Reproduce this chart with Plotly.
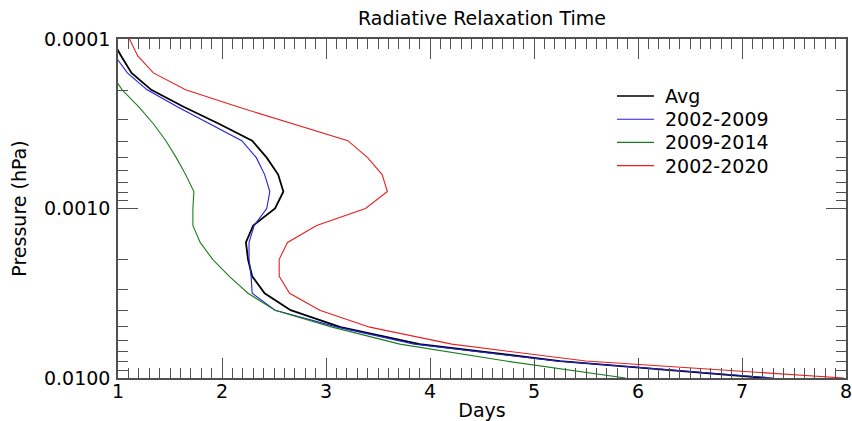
import plotly.graph_objects as go

# Pressure levels (hPa), 0.1-decade spacing from 1e-4 to 1e-2
pressure = [1.0e-4, 1.259e-4, 1.585e-4, 1.995e-4, 2.512e-4, 3.162e-4, 3.981e-4,
            5.012e-4, 6.310e-4, 7.943e-4, 1.0e-3, 1.259e-3, 1.585e-3, 1.995e-3,
            2.512e-3, 3.162e-3, 3.981e-3, 5.012e-3, 6.310e-3, 7.943e-3, 1.0e-2]

# Radiative relaxation time (days) at each pressure level
avg = [0.94, 1.03, 1.13, 1.32, 1.63, 1.97, 2.29, 2.43, 2.54, 2.59, 2.51,
       2.30, 2.23, 2.25, 2.29, 2.41, 2.66, 3.14, 3.90, 5.25, 7.23]
p2002_2009 = [0.90, 0.97, 1.09, 1.28, 1.57, 1.88, 2.19, 2.33, 2.41, 2.46, 2.43,
              2.31, 2.26, 2.26, 2.28, 2.29, 2.51, 3.11, 3.85, 5.22, 7.30]
p2009_2014 = [0.72, 0.82, 0.93, 1.04, 1.20, 1.34, 1.46, 1.56, 1.65, 1.73, 1.72,
              1.72, 1.79, 1.91, 2.07, 2.25, 2.51, 3.06, 3.71, 4.73, 5.88]
p2002_2020 = [1.11, 1.19, 1.34, 1.65, 2.15, 2.68, 3.21, 3.40, 3.54, 3.59, 3.38,
              2.91, 2.63, 2.55, 2.55, 2.65, 2.94, 3.42, 4.21, 5.50, 7.98]

series = [
    ("Avg", avg, "black", 1.8),
    ("2002-2009", p2002_2009, "#2020e0", 1.1),
    ("2009-2014", p2009_2014, "#1e7d1e", 1.1),
    ("2002-2020", p2002_2020, "#e62020", 1.1),
]

x_ticks = [1, 2, 3, 4, 5, 6, 7, 8]
y_ticks = [1e-4, 1e-3, 1e-2]
y_ticktext = ["0.0001", "0.0010", "0.0100"]
y_minor = [m * 10.0 ** e for e in (-4, -3) for m in range(2, 10)]

FONT = "DejaVu Sans"
AXIS_COLOR = "#505050"
W, H = 852, 421
ML, MR, MT, MB = 118, 6, 39, 43
PW, PH = W - ML - MR, H - MT - MB

fig = go.Figure()
for name, vals, color, width in series:
    fig.add_trace(go.Scatter(x=vals, y=pressure, mode="lines", name=name,
                             line=dict(color=color, width=width),
                             showlegend=False))

# Legend block drawn in paper coordinates: a short line sample and a label
legend_left, legend_top, row_step = 617, 96, 23.2
for i, (name, _, color, width) in enumerate(series):
    py = legend_top + i * row_step
    yp = (H - MB - py) / PH
    fig.add_shape(type="line", xref="paper", yref="paper",
                  x0=(legend_left - ML) / PW, x1=(legend_left + 37 - ML) / PW,
                  y0=yp, y1=yp, line=dict(color=color, width=min(width, 1.4)))
    fig.add_annotation(xref="paper", yref="paper", x=(legend_left + 46 - ML) / PW,
                       y=yp, text=name, showarrow=False, xanchor="left",
                       yanchor="middle", font=dict(size=19, color="black"))

fig.update_layout(
    width=W, height=H,
    margin=dict(l=ML, r=MR, t=MT, b=MB),
    paper_bgcolor="white", plot_bgcolor="white",
    font=dict(family=FONT, size=19, color="black"),
    title=dict(text="Radiative Relaxation Time", x=0.5, xref="paper",
               xanchor="center", y=1 - 18 / H, yref="container",
               yanchor="middle", font=dict(size=19)),
    showlegend=False,
)

fig.update_xaxes(
    range=[1, 8], tickvals=x_ticks, ticks="inside", ticklen=20, tickwidth=1.3,
    tickcolor=AXIS_COLOR, showline=True, linecolor=AXIS_COLOR, linewidth=1.5,
    mirror="allticks", showgrid=False, zeroline=False, automargin=False,
    ticklabelstandoff=-5, ticklabeloverflow="allow",
    minor=dict(dtick=0.1, ticks="inside", ticklen=10, tickwidth=1.3,
               tickcolor=AXIS_COLOR, showgrid=False),
    title=dict(text="Days", standoff=4, font=dict(size=19)),
    tickfont=dict(size=19),
)
fig.update_yaxes(
    type="log", range=[-2, -4], tickvals=y_ticks, ticktext=y_ticktext,
    ticks="inside", ticklen=20, tickwidth=1.3, tickcolor=AXIS_COLOR,
    showline=True, linecolor=AXIS_COLOR, linewidth=1.5, mirror="allticks",
    showgrid=False, zeroline=False, automargin=False, ticklabelstandoff=2,
    minor=dict(tickvals=y_minor, ticks="inside", ticklen=10, tickwidth=1.3,
               tickcolor=AXIS_COLOR, showgrid=False),
    title=dict(text="Pressure (hPa)", standoff=12, font=dict(size=19)),
    tickfont=dict(size=19),
)

fig.write_html("out.html")
